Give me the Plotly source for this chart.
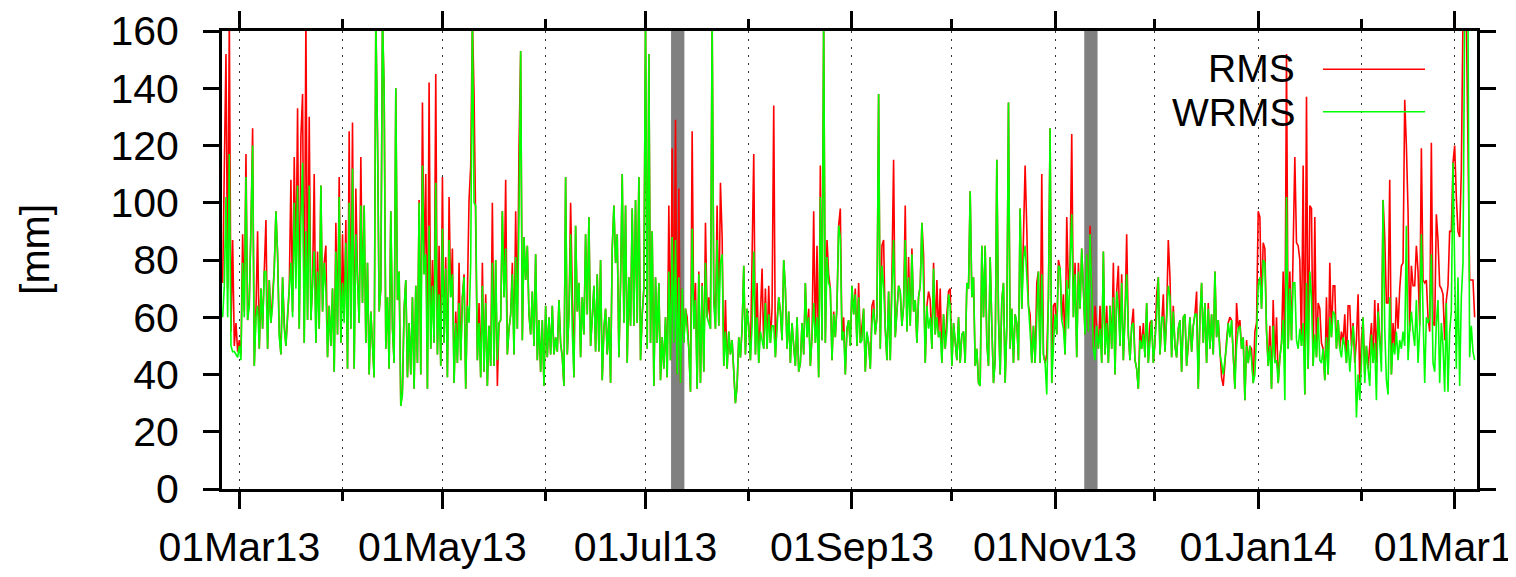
import pandas as pd
import plotly.graph_objects as go

# ---------------- data (12-hourly samples starting 2013-02-24 00:00) ----------------
START = "2013-02-24 00:00"
STEP = "12h"

rms = [
    72, 122, 152, 70, 165, 55, 87, 50, 58, 48,        # 0
    52, 47, 89, 62, 117, 59, 66, 91, 126, 43,
    62, 90, 49, 70, 56, 76, 94, 49, 73, 58,
    66, 77, 97, 82, 55, 47, 74, 58, 50, 61,
    70, 108, 62, 116, 75, 133, 56, 123, 138, 51,
    165, 59, 130, 59, 72, 110, 51, 83, 56, 106,       # 50
    62, 79, 85, 46, 64, 50, 70, 41, 93, 54,
    109, 51, 89, 60, 94, 42, 125, 56, 128, 42,
    105, 74, 58, 116, 65, 99, 51, 79, 40, 62,
    48, 39, 165, 124, 62, 70, 165, 139, 49, 67,
    42, 97, 56, 44, 140, 66, 76, 29, 35, 63,          # 100
    73, 39, 58, 40, 67, 35, 71, 44, 101, 40,
    135, 75, 110, 35, 142, 49, 80, 51, 145, 47,
    85, 43, 109, 51, 81, 39, 102, 67, 84, 37,
    62, 44, 79, 45, 67, 75, 35, 64, 101, 113,
    165, 138, 99, 45, 65, 39, 79, 41, 68, 36,         # 150
    57, 43, 100, 43, 80, 36, 58, 59, 97, 67,
    108, 47, 56, 61, 79, 47, 97, 56, 119, 153,
    52, 88, 73, 85, 61, 54, 69, 50, 82, 45,
    59, 41, 59, 36, 64, 46, 60, 47, 64, 47,
    53, 48, 66, 51, 46, 36, 109, 47, 61, 100,         # 200
    69, 39, 92, 62, 72, 46, 67, 54, 89, 61,
    95, 50, 60, 71, 48, 75, 48, 80, 38, 56,
    63, 47, 60, 37, 84, 99, 79, 89, 46, 72,
    110, 58, 99, 44, 74, 57, 98, 57, 101, 58,
    109, 45, 61, 70, 165, 49, 152, 51, 90, 36,        # 250
    74, 51, 72, 38, 53, 42, 60, 39, 99, 45,
    119, 51, 129, 40, 105, 37, 70, 51, 63, 60,
    49, 34, 125, 56, 72, 35, 76, 37, 72, 41,
    93, 60, 67, 56, 165, 69, 56, 99, 57, 107,
    88, 43, 66, 42, 55, 47, 52, 40, 30, 36,           # 300
    53, 46, 56, 78, 47, 63, 57, 45, 91, 117,
    47, 72, 44, 65, 77, 49, 70, 49, 71, 51,
    63, 134, 46, 59, 67, 62, 52, 80, 70, 49,
    62, 44, 58, 50, 43, 60, 41, 44, 58, 47,
    72, 53, 63, 43, 53, 97, 51, 85, 39, 113,          # 350
    52, 165, 51, 87, 75, 70, 45, 62, 53, 64,
    92, 98, 52, 60, 40, 56, 59, 50, 71, 61,
    70, 50, 72, 51, 57, 63, 41, 54, 51, 42,
    64, 66, 54, 60, 138, 49, 85, 87, 56, 45,
    69, 45, 75, 115, 53, 62, 71, 69, 57, 64,          # 400
    99, 55, 81, 57, 84, 62, 66, 51, 67, 71,
    93, 82, 44, 64, 69, 66, 49, 79, 54, 73,
    53, 70, 44, 61, 49, 61, 69, 70, 43, 58,
    51, 45, 60, 44, 54, 55, 44, 72, 70, 104,
    67, 74, 43, 49, 37, 36, 85, 60, 85, 51,           # 450
    43, 81, 57, 37, 45, 115, 60, 40, 66, 72,
    37, 57, 135, 49, 63, 44, 61, 58, 45, 98,
    63, 89, 113, 91, 64, 61, 44, 57, 44, 72,
    76, 44, 110, 47, 44, 47, 67, 126, 37, 64,
    65, 54, 80, 77, 59, 68, 47, 95, 70, 79,           # 500
    124, 60, 79, 46, 79, 63, 84, 70, 54, 82,
    55, 92, 67, 49, 64, 57, 49, 64, 44, 83,
    47, 64, 44, 64, 49, 79, 40, 69, 78, 50,
    75, 45, 61, 89, 54, 45, 57, 63, 45, 42,
    35, 57, 49, 58, 46, 65, 44, 58, 59, 44,           # 550
    51, 68, 74, 47, 60, 68, 48, 61, 87, 74,
    46, 64, 50, 46, 56, 59, 41, 60, 61, 43,
    50, 60, 48, 57, 61, 69, 35, 60, 72, 51,
    65, 44, 65, 49, 61, 47, 76, 53, 59, 49,
    39, 36, 45, 52, 58, 60, 59, 49, 35, 65,           # 600
    56, 59, 49, 53, 31, 52, 44, 50, 49, 37,
    55, 58, 97, 95, 63, 86, 84, 55, 43, 57,
    35, 66, 44, 60, 37, 46, 51, 76, 45, 152,
    49, 76, 52, 84, 116, 86, 85, 80, 50, 113,
    33, 137, 42, 99, 98, 43, 95, 46, 65, 63,          # 650
    51, 49, 38, 67, 40, 79, 53, 71, 71, 49,
    59, 49, 55, 51, 61, 44, 64, 64, 50, 58,
    44, 52, 68, 37, 52, 60, 40, 50, 42, 50,
    58, 44, 66, 44, 65, 52, 48, 101, 88, 65,
    65, 108, 40, 58, 49, 67, 56, 70, 78, 79,          # 700
    136, 120, 97, 55, 78, 71, 71, 85, 76, 57,
    119, 73, 72, 73, 60, 55, 121, 58, 57, 96,
    87, 71, 70, 68, 52, 66, 71, 90, 90, 114,
    120, 102, 90, 88, 111, 165, 165, 165, 120, 73,
    73, 73, 60,                                        # 750
]

wrms = [
    60, 71, 102, 60, 117, 50, 48, 48, 47, 46,         # 0
    50, 45, 79, 60, 109, 59, 64, 91, 120, 43,
    60, 64, 49, 70, 56, 76, 76, 49, 73, 58,
    64, 77, 97, 82, 53, 47, 74, 56, 50, 61,
    70, 79, 60, 100, 70, 106, 56, 94, 114, 51,
    90, 59, 106, 59, 72, 83, 51, 76, 56, 106,         # 50
    62, 79, 70, 46, 64, 50, 70, 41, 83, 54,
    102, 51, 72, 58, 86, 42, 100, 56, 112, 42,
    89, 74, 58, 99, 65, 99, 51, 79, 40, 62,
    48, 39, 165, 124, 62, 70, 165, 139, 49, 67,
    42, 97, 56, 44, 140, 66, 76, 29, 33, 63,          # 100
    73, 39, 58, 40, 67, 35, 71, 44, 100, 40,
    113, 75, 82, 35, 92, 49, 71, 51, 107, 47,
    68, 43, 91, 51, 77, 39, 87, 67, 75, 37,
    58, 44, 65, 45, 67, 74, 35, 64, 58, 79,
    165, 100, 99, 45, 58, 39, 71, 41, 65, 36,         # 150
    57, 43, 79, 43, 80, 45, 58, 59, 97, 67,
    84, 47, 56, 61, 75, 47, 81, 56, 95, 153,
    52, 88, 73, 85, 61, 54, 69, 50, 82, 45,
    59, 41, 59, 36, 64, 46, 60, 47, 64, 47,
    53, 48, 66, 51, 46, 36, 109, 47, 61, 89,          # 200
    55, 39, 92, 62, 72, 46, 67, 54, 89, 61,
    95, 50, 60, 71, 48, 75, 48, 80, 38, 56,
    63, 47, 60, 37, 84, 99, 79, 89, 46, 72,
    110, 58, 99, 44, 74, 57, 98, 57, 101, 58,
    109, 45, 61, 70, 165, 49, 152, 51, 90, 36,        # 250
    74, 51, 72, 38, 53, 42, 60, 39, 76, 45,
    88, 51, 87, 40, 74, 37, 70, 51, 63, 55,
    49, 34, 91, 56, 66, 35, 75, 37, 71, 41,
    79, 60, 58, 56, 165, 65, 56, 87, 57, 79,
    82, 43, 55, 42, 55, 47, 52, 40, 30, 36,           # 300
    53, 46, 56, 78, 47, 63, 57, 45, 57, 83,
    47, 60, 44, 55, 52, 49, 65, 49, 61, 51,
    57, 57, 46, 59, 67, 62, 52, 80, 70, 49,
    62, 44, 58, 50, 43, 60, 41, 44, 58, 47,
    72, 53, 60, 43, 53, 65, 51, 60, 39, 102,          # 350
    52, 165, 51, 81, 72, 70, 45, 61, 53, 64,
    92, 88, 52, 55, 40, 56, 59, 50, 71, 61,
    68, 50, 67, 51, 52, 63, 41, 55, 51, 42,
    58, 63, 54, 60, 138, 49, 78, 71, 56, 45,
    69, 45, 70, 87, 53, 62, 71, 69, 57, 64,           # 400
    87, 55, 74, 57, 82, 62, 66, 51, 67, 71,
    93, 71, 44, 64, 56, 60, 49, 77, 54, 60,
    53, 55, 44, 61, 49, 55, 68, 64, 43, 58,
    51, 45, 60, 44, 54, 55, 44, 72, 70, 104,
    67, 74, 43, 49, 37, 36, 85, 60, 85, 51,           # 450
    43, 81, 57, 37, 45, 115, 60, 40, 66, 72,
    37, 57, 135, 49, 63, 44, 61, 58, 45, 98,
    63, 80, 85, 72, 64, 55, 44, 57, 44, 60,
    76, 44, 75, 47, 44, 33, 67, 126, 37, 50,
    61, 54, 78, 77, 59, 56, 47, 73, 56, 79,           # 500
    96, 60, 75, 46, 76, 63, 84, 70, 54, 82,
    55, 89, 67, 49, 45, 57, 49, 56, 44, 83,
    47, 58, 44, 64, 49, 67, 40, 69, 63, 50,
    72, 45, 61, 75, 54, 45, 57, 58, 45, 42,
    35, 52, 49, 54, 46, 65, 44, 52, 59, 44,           # 550
    51, 60, 74, 47, 60, 60, 48, 61, 71, 67,
    46, 62, 50, 46, 56, 59, 41, 60, 61, 43,
    50, 60, 48, 57, 61, 61, 35, 60, 72, 51,
    65, 44, 63, 49, 61, 47, 76, 53, 59, 47,
    44, 40, 45, 50, 58, 53, 59, 49, 35, 50,           # 600
    56, 57, 49, 53, 31, 50, 44, 50, 45, 37,
    40, 54, 71, 74, 63, 80, 79, 55, 43, 50,
    35, 57, 44, 45, 37, 46, 51, 59, 31, 102,
    49, 70, 52, 72, 72, 52, 49, 56, 50, 58,
    33, 72, 42, 76, 67, 43, 54, 46, 60, 45,           # 650
    44, 49, 38, 53, 40, 60, 53, 62, 61, 49,
    59, 49, 46, 53, 50, 44, 52, 41, 49, 57,
    49, 25, 40, 31, 44, 60, 37, 50, 42, 36,
    54, 44, 51, 31, 62, 52, 41, 101, 56, 38,
    33, 67, 40, 51, 47, 55, 45, 52, 49, 55,           # 700
    50, 92, 45, 56, 62, 55, 50, 66, 44, 56,
    89, 61, 37, 60, 58, 60, 82, 44, 41, 58,
    66, 37, 58, 50, 34, 65, 34, 55, 62, 114,
    75, 42, 74, 36, 67, 79, 165, 165, 165, 46,
    57, 48, 45,                                        # 750
]

series_names = ["RMS", "WRMS"]
series_colors = ["#ff0000", "#00ff00"]
gap_periods = [("2013-07-08 16:00", "2013-07-12 16:00"),
               ("2013-11-09 18:00", "2013-11-13 18:00")]
x_range = ["2013-02-23 19:18", "2014-03-07 17:00"]
y_range = [0, 160]
y_title = "[mm]"

n = min(len(rms), len(wrms))
dates = pd.date_range(start=START, periods=n, freq=STEP)

FONT = "Liberation Sans, Arial, Helvetica, sans-serif"

fig = go.Figure()
for name, vals, col in zip(series_names, [rms[:n], wrms[:n]], series_colors):
    fig.add_trace(go.Scatter(x=dates, y=vals, mode="lines", name=name,
                             line=dict(color=col, width=1.6), showlegend=False))

shapes = []
for a, b in gap_periods:
    shapes.append(dict(type="rect", xref="x", yref="paper", x0=a, x1=b, y0=0, y1=1,
                       fillcolor="#808080", line=dict(width=0), layer="below"))
# opaque key box (hides grid lines, under the data)
shapes.append(dict(type="rect", xref="paper", yref="paper", x0=0.749, x1=0.988,
                   y0=0.78, y1=0.967, fillcolor="white", line=dict(width=0), layer="between"))
# key samples
key_y = [0.9164, 0.8238]
for yk, col in zip(key_y, series_colors):
    shapes.append(dict(type="line", xref="paper", yref="paper", x0=0.8773, x1=0.9586,
                       y0=yk, y1=yk, line=dict(color=col, width=1.6)))

annotations = []
text_y = [0.9185, 0.8215]
for yk, name in zip(text_y, series_names):
    annotations.append(dict(xref="paper", yref="paper", x=0.8566, y=yk, text=name,
                            showarrow=False, xanchor="right", yanchor="middle",
                            font=dict(family=FONT, size=39, color="black")))
annotations.append(dict(xref="paper", yref="paper", x=-0.149, y=0.522, text=y_title,
                        showarrow=False, textangle=-90, xanchor="center", yanchor="middle",
                        font=dict(family=FONT, size=41, color="black")))

fig.update_layout(
    width=1516, height=577,
    margin=dict(l=214, r=47, t=23, b=96, pad=0, autoexpand=False),
    paper_bgcolor="white", plot_bgcolor="white",
    font=dict(family=FONT, size=41, color="black"),
    shapes=shapes, annotations=annotations,
    showlegend=False,
)
fig.update_xaxes(
    type="date", range=x_range, automargin=False,
    tick0="2013-03-01", dtick="M2", tickformat="%d%b%y",
    ticks="outside", ticklen=17, tickwidth=2.5, tickcolor="black",
    showline=True, linewidth=3, linecolor="black", mirror="ticks",
    showgrid=True, gridcolor="#333333", gridwidth=1, griddash="2px,6px",
    minor=dict(tick0="2013-03-01", dtick="M1", ticks="outside", ticklen=9,
               tickwidth=2.5, tickcolor="black", showgrid=True,
               gridcolor="#333333", gridwidth=1, griddash="2px,6px"),
    ticklabeloverflow="allow", ticklabelstandoff=3,
    zeroline=False,
)
fig.update_yaxes(
    range=y_range, dtick=20, tick0=0, automargin=False,
    ticks="outside", ticklen=16, tickwidth=2.5, tickcolor="black",
    showline=True, linewidth=3, linecolor="black", mirror="ticks",
    showgrid=False, zeroline=False, ticklabelstandoff=16,
)

fig.write_html("out.html")
